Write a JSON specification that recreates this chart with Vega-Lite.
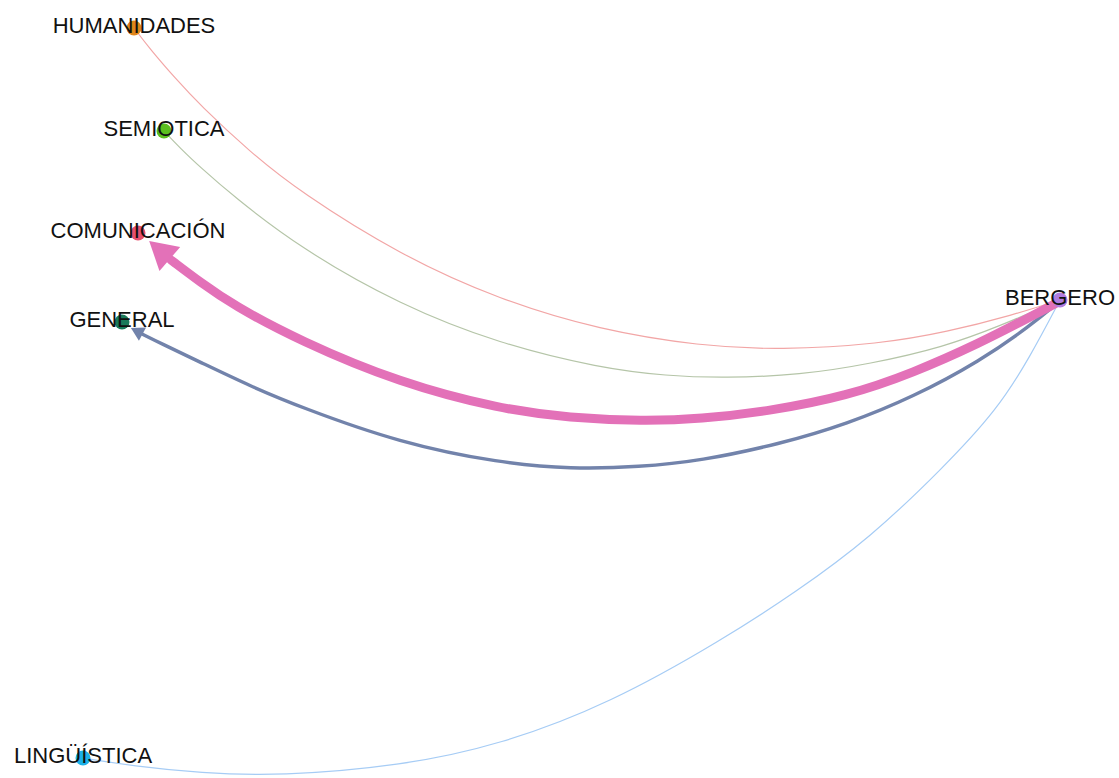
{
  "$schema": "https://vega.github.io/schema/vega-lite/v6.json",
  "width": 1119,
  "height": 778,
  "padding": 0,
  "autosize": {"type": "none"},
  "background": "white",
  "config": {"view": {"stroke": null}},
  "datasets": {
    "nodes": [
      {"name": "HUMANIDADES", "x": 134, "y": 28},
      {"name": "SEMIOTICA", "x": 164, "y": 131},
      {"name": "COMUNICACIÓN", "x": 138, "y": 233},
      {"name": "GENERAL", "x": 122, "y": 322},
      {"name": "BERGERO", "x": 1060, "y": 300},
      {"name": "LINGÜÍSTICA", "x": 83, "y": 758}
    ],
    "arrows": [
      {"target": "COMUNICACIÓN", "x": 159.5, "y": 250},
      {"target": "GENERAL", "x": 136.7, "y": 331}
    ],
    "edges": [
      {"target": "HUMANIDADES", "weight": 1, "i": 0, "x": 134, "y": 28},
      {"target": "HUMANIDADES", "weight": 1, "i": 1, "x": 150, "y": 49},
      {"target": "HUMANIDADES", "weight": 1, "i": 2, "x": 175, "y": 78},
      {"target": "HUMANIDADES", "weight": 1, "i": 3, "x": 200, "y": 105},
      {"target": "HUMANIDADES", "weight": 1, "i": 4, "x": 250, "y": 152},
      {"target": "HUMANIDADES", "weight": 1, "i": 5, "x": 300, "y": 192},
      {"target": "HUMANIDADES", "weight": 1, "i": 6, "x": 400, "y": 255},
      {"target": "HUMANIDADES", "weight": 1, "i": 7, "x": 500, "y": 300},
      {"target": "HUMANIDADES", "weight": 1, "i": 8, "x": 600, "y": 330},
      {"target": "HUMANIDADES", "weight": 1, "i": 9, "x": 700, "y": 346},
      {"target": "HUMANIDADES", "weight": 1, "i": 10, "x": 780, "y": 350},
      {"target": "HUMANIDADES", "weight": 1, "i": 11, "x": 880, "y": 344},
      {"target": "HUMANIDADES", "weight": 1, "i": 12, "x": 947, "y": 332},
      {"target": "HUMANIDADES", "weight": 1, "i": 13, "x": 1013, "y": 315},
      {"target": "HUMANIDADES", "weight": 1, "i": 14, "x": 1060, "y": 300},

      {"target": "SEMIOTICA", "weight": 1, "i": 0, "x": 164, "y": 131},
      {"target": "SEMIOTICA", "weight": 1, "i": 1, "x": 180, "y": 148},
      {"target": "SEMIOTICA", "weight": 1, "i": 2, "x": 200, "y": 167},
      {"target": "SEMIOTICA", "weight": 1, "i": 3, "x": 233, "y": 196},
      {"target": "SEMIOTICA", "weight": 1, "i": 4, "x": 300, "y": 248},
      {"target": "SEMIOTICA", "weight": 1, "i": 5, "x": 400, "y": 305},
      {"target": "SEMIOTICA", "weight": 1, "i": 6, "x": 500, "y": 344},
      {"target": "SEMIOTICA", "weight": 1, "i": 7, "x": 600, "y": 368},
      {"target": "SEMIOTICA", "weight": 1, "i": 8, "x": 667, "y": 376},
      {"target": "SEMIOTICA", "weight": 1, "i": 9, "x": 725, "y": 378},
      {"target": "SEMIOTICA", "weight": 1, "i": 10, "x": 800, "y": 375},
      {"target": "SEMIOTICA", "weight": 1, "i": 11, "x": 870, "y": 364},
      {"target": "SEMIOTICA", "weight": 1, "i": 12, "x": 944, "y": 347},
      {"target": "SEMIOTICA", "weight": 1, "i": 13, "x": 1000, "y": 326},
      {"target": "SEMIOTICA", "weight": 1, "i": 14, "x": 1060, "y": 300},

      {"target": "LINGÜÍSTICA", "weight": 1, "i": 0, "x": 83, "y": 758},
      {"target": "LINGÜÍSTICA", "weight": 1, "i": 1, "x": 133, "y": 766},
      {"target": "LINGÜÍSTICA", "weight": 1, "i": 2, "x": 200, "y": 773},
      {"target": "LINGÜÍSTICA", "weight": 1, "i": 3, "x": 280, "y": 776},
      {"target": "LINGÜÍSTICA", "weight": 1, "i": 4, "x": 400, "y": 766},
      {"target": "LINGÜÍSTICA", "weight": 1, "i": 5, "x": 500, "y": 745},
      {"target": "LINGÜÍSTICA", "weight": 1, "i": 6, "x": 611, "y": 703},
      {"target": "LINGÜÍSTICA", "weight": 1, "i": 7, "x": 722, "y": 640},
      {"target": "LINGÜÍSTICA", "weight": 1, "i": 8, "x": 796, "y": 592},
      {"target": "LINGÜÍSTICA", "weight": 1, "i": 9, "x": 870, "y": 538},
      {"target": "LINGÜÍSTICA", "weight": 1, "i": 10, "x": 944, "y": 467},
      {"target": "LINGÜÍSTICA", "weight": 1, "i": 11, "x": 997, "y": 410},
      {"target": "LINGÜÍSTICA", "weight": 1, "i": 12, "x": 1030, "y": 357},
      {"target": "LINGÜÍSTICA", "weight": 1, "i": 13, "x": 1060, "y": 300},

      {"target": "GENERAL", "weight": 3, "i": 0, "x": 142, "y": 334},
      {"target": "GENERAL", "weight": 3, "i": 1, "x": 160, "y": 343},
      {"target": "GENERAL", "weight": 3, "i": 2, "x": 200, "y": 362},
      {"target": "GENERAL", "weight": 3, "i": 3, "x": 250, "y": 386},
      {"target": "GENERAL", "weight": 3, "i": 4, "x": 300, "y": 407},
      {"target": "GENERAL", "weight": 3, "i": 5, "x": 400, "y": 443},
      {"target": "GENERAL", "weight": 3, "i": 6, "x": 500, "y": 463},
      {"target": "GENERAL", "weight": 3, "i": 7, "x": 571, "y": 469},
      {"target": "GENERAL", "weight": 3, "i": 8, "x": 640, "y": 467},
      {"target": "GENERAL", "weight": 3, "i": 9, "x": 700, "y": 461},
      {"target": "GENERAL", "weight": 3, "i": 10, "x": 780, "y": 444},
      {"target": "GENERAL", "weight": 3, "i": 11, "x": 847, "y": 424},
      {"target": "GENERAL", "weight": 3, "i": 12, "x": 913, "y": 397},
      {"target": "GENERAL", "weight": 3, "i": 13, "x": 980, "y": 361},
      {"target": "GENERAL", "weight": 3, "i": 14, "x": 1030, "y": 326},
      {"target": "GENERAL", "weight": 3, "i": 15, "x": 1060, "y": 301},

      {"target": "COMUNICACIÓN", "weight": 8, "i": 0, "x": 171, "y": 260},
      {"target": "COMUNICACIÓN", "weight": 8, "i": 1, "x": 200, "y": 282},
      {"target": "COMUNICACIÓN", "weight": 8, "i": 2, "x": 233, "y": 305},
      {"target": "COMUNICACIÓN", "weight": 8, "i": 3, "x": 300, "y": 341},
      {"target": "COMUNICACIÓN", "weight": 8, "i": 4, "x": 400, "y": 383},
      {"target": "COMUNICACIÓN", "weight": 8, "i": 5, "x": 500, "y": 409},
      {"target": "COMUNICACIÓN", "weight": 8, "i": 6, "x": 570, "y": 418},
      {"target": "COMUNICACIÓN", "weight": 8, "i": 7, "x": 643, "y": 421},
      {"target": "COMUNICACIÓN", "weight": 8, "i": 8, "x": 700, "y": 419},
      {"target": "COMUNICACIÓN", "weight": 8, "i": 9, "x": 770, "y": 411},
      {"target": "COMUNICACIÓN", "weight": 8, "i": 10, "x": 847, "y": 396},
      {"target": "COMUNICACIÓN", "weight": 8, "i": 11, "x": 913, "y": 373},
      {"target": "COMUNICACIÓN", "weight": 8, "i": 12, "x": 980, "y": 343},
      {"target": "COMUNICACIÓN", "weight": 8, "i": 13, "x": 1030, "y": 317},
      {"target": "COMUNICACIÓN", "weight": 8, "i": 14, "x": 1060, "y": 301}
    ]
  },
  "layer": [
    {
      "data": {"name": "edges"},
      "mark": {"type": "line", "interpolate": "basis", "strokeCap": "round"},
      "encoding": {
        "x": {"field": "x", "type": "quantitative", "scale": {"domain": [0, 1119], "nice": false, "zero": false}, "axis": null},
        "y": {"field": "y", "type": "quantitative", "scale": {"domain": [0, 778], "nice": false, "zero": false, "reverse": true}, "axis": null},
        "order": {"field": "i", "type": "quantitative"},
        "stroke": {
          "field": "target", "type": "nominal", "legend": null,
          "scale": {
            "domain": ["HUMANIDADES", "SEMIOTICA", "LINGÜÍSTICA", "GENERAL", "COMUNICACIÓN"],
            "range": ["#f2a6a6", "#b5c5a8", "#a6ccf5", "#7283ab", "#e371b8"]
          }
        },
        "strokeWidth": {
          "field": "weight", "type": "quantitative", "legend": null,
          "scale": {"domain": [1, 8], "range": [1.2, 9]}
        }
      }
    },
    {
      "data": {"name": "arrows"},
      "transform": [{"filter": "datum.target === 'COMUNICACIÓN'"}],
      "mark": {"type": "point", "shape": "triangle-up", "filled": true, "fill": "#e371b8", "opacity": 1, "size": 1000, "angle": 311, "strokeWidth": 0},
      "encoding": {
        "x": {"field": "x", "type": "quantitative"},
        "y": {"field": "y", "type": "quantitative"}
      }
    },
    {
      "data": {"name": "arrows"},
      "transform": [{"filter": "datum.target === 'GENERAL'"}],
      "mark": {"type": "point", "shape": "triangle-up", "filled": true, "fill": "#7283ab", "opacity": 1, "size": 230, "angle": 298, "strokeWidth": 0},
      "encoding": {
        "x": {"field": "x", "type": "quantitative"},
        "y": {"field": "y", "type": "quantitative"}
      }
    },
    {
      "data": {"name": "nodes"},
      "mark": {"type": "point", "shape": "circle", "filled": true, "opacity": 1, "size": 225, "strokeWidth": 0},
      "encoding": {
        "x": {"field": "x", "type": "quantitative"},
        "y": {"field": "y", "type": "quantitative"},
        "fill": {
          "field": "name", "type": "nominal", "legend": null,
          "scale": {
            "domain": ["HUMANIDADES", "SEMIOTICA", "COMUNICACIÓN", "GENERAL", "BERGERO", "LINGÜÍSTICA"],
            "range": ["#e0861a", "#5cbf1e", "#e6506e", "#1b7a5a", "#b07ce0", "#1cb1e8"]
          }
        }
      }
    },
    {
      "data": {"name": "nodes"},
      "mark": {"type": "text", "font": "Liberation Sans", "fontSize": 22, "fill": "#111111", "align": "center", "baseline": "alphabetic", "dy": 5},
      "encoding": {
        "x": {"field": "x", "type": "quantitative"},
        "y": {"field": "y", "type": "quantitative"},
        "text": {"field": "name", "type": "nominal"}
      }
    }
  ]
}
